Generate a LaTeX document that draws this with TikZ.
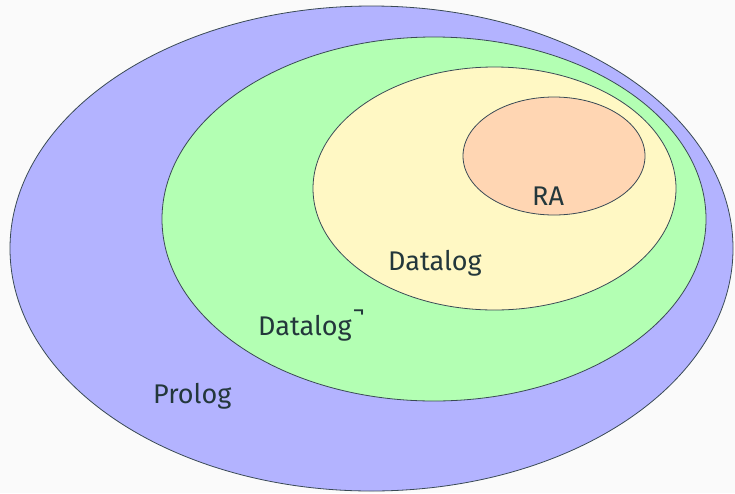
\documentclass[tikz,border=0pt]{standalone}
\usepackage{fontspec}
\setmainfont{Fira Sans}
\definecolor{bgc}{HTML}{FAFAFA}
\definecolor{fgc}{HTML}{23373B}
\definecolor{linec}{HTML}{3A4A55}
\definecolor{prologc}{HTML}{B3B3FF}
\definecolor{negc}{HTML}{B3FFB3}
\definecolor{datac}{HTML}{FFF8C4}
\definecolor{rac}{HTML}{FFD6B3}
\tikzset{
  setell/.style={draw=linec, line width=0.8pt},
  lbl/.style={text=fgc, font=\fontsize{27}{30}\selectfont, anchor=base west, inner sep=0pt}
}
\begin{document}
\begin{tikzpicture}[x=1pt,y=-1pt]
\fill[bgc] (0,0) rectangle (735,493);
\useasboundingbox (0,0) rectangle (735,493);
\path[setell, fill=prologc] (371.5,248.5) ellipse [x radius=361.5, y radius=242.5];
\path[setell, fill=negc] (434,219) ellipse [x radius=272, y radius=182];
\path[setell, fill=datac] (494.5,188.5) ellipse [x radius=181.5, y radius=121.5];
\path[setell, fill=rac] (554,156) ellipse [x radius=91, y radius=59];
\node[lbl] (ra) at (532,205) {RA};
\node[lbl] (dl) at (388,270) {Datalog};
\node[lbl] (dln) at (258,335) {Datalog\hspace{1pt}\raisebox{17pt}{\fontsize{24}{24}\selectfont ¬}};
\node[lbl] (pl) at (153,403) {Prolog};
\end{tikzpicture}
\end{document}
